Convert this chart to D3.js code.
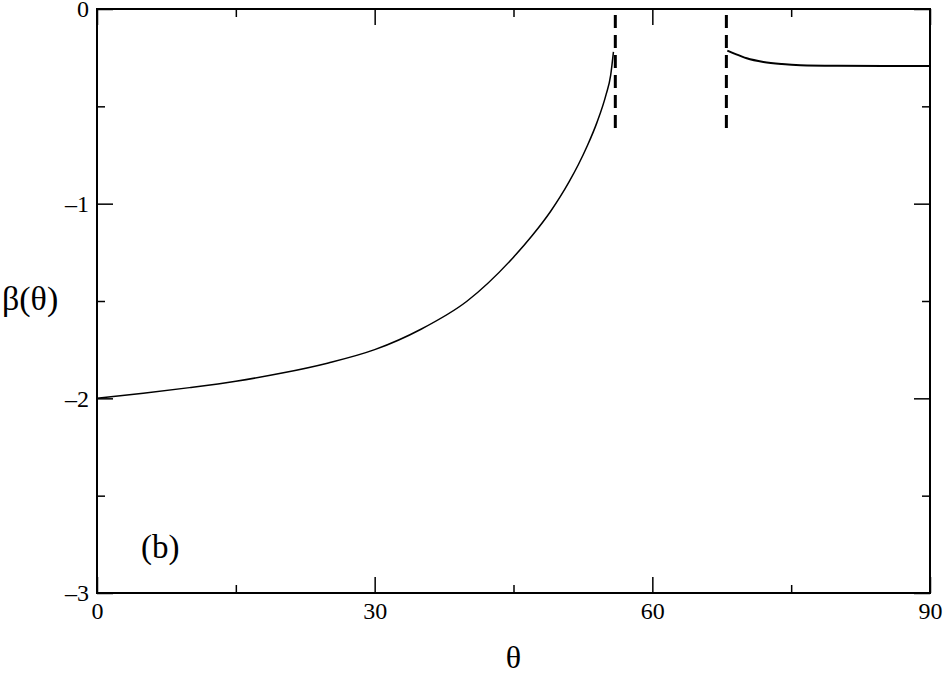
<!DOCTYPE html>
<html>
<head>
<meta charset="utf-8">
<script src="https://cdn.jsdelivr.net/npm/d3@7"></script>
<style>
  body { margin: 0; background: #fff; }
</style>
</head>
<body>
<div class="chart"></div>
<script>
// left branch of beta(theta)
const thetaLeft = [0, 5, 10, 15, 20, 25, 30, 35, 40, 45, 47, 49, 50, 51, 52, 53, 54, 55, 55.5, 55.8];
const betaLeft = [-2.0, -1.974, -1.945, -1.912, -1.870, -1.818, -1.750, -1.645, -1.500, -1.275, -1.165, -1.040, -0.968, -0.888, -0.800, -0.700, -0.585, -0.440, -0.34, -0.22];

// right branch
const thetaRight = [68.1, 69, 70.2, 72, 74, 76, 80, 85, 90];
const betaRight = [-0.214, -0.232, -0.253, -0.272, -0.283, -0.289, -0.292, -0.293, -0.293];

// dashed markers
const dashTheta = [56, 68];
const dashBottom = -0.62;

const xMajor = [0, 30, 60, 90];
const xMinor = [15, 45, 75];
const yMajor = [0, -1, -2, -3];
const yMinor = [-0.5, -1.5, -2.5];

const serif = "'Liberation Serif', 'DejaVu Serif', serif";

const width = 943, height = 674;
const margin = {top: 9, right: 13, bottom: 81, left: 97};
const w = width - margin.left - margin.right;
const h = height - margin.top - margin.bottom;

const svg = d3.select(".chart").append("svg")
  .attr("width", width)
  .attr("height", height)
  .attr("font-family", serif);

const g = svg.append("g")
  .attr("transform", `translate(${margin.left},${margin.top})`);

const x = d3.scaleLinear().domain([0, 90]).range([0, w]);
const y = d3.scaleLinear().domain([-3, 0]).range([h, 0]);

const fmt = d => (d < 0 ? "\u2013" + Math.abs(d) : "" + d);

function styleAxis(sel, labels) {
  sel.attr("font-family", serif).attr("font-size", 24);
  sel.select(".domain").remove();
  sel.selectAll("line").attr("stroke", "#000").attr("stroke-width", 1.5);
  if (!labels) sel.selectAll("text").remove();
  sel.selectAll("text").attr("fill", "#000");
}

// bottom / top
g.append("g").attr("transform", `translate(0,${h})`)
  .call(d3.axisBottom(x).tickValues(xMajor).tickSize(-16).tickPadding(9).tickFormat(fmt))
  .call(s => styleAxis(s, true));
g.append("g").attr("transform", `translate(0,${h})`)
  .call(d3.axisBottom(x).tickValues(xMinor).tickSize(-8))
  .call(s => styleAxis(s, false));
g.append("g")
  .call(d3.axisTop(x).tickValues(xMajor).tickSize(-16))
  .call(s => styleAxis(s, false));
g.append("g")
  .call(d3.axisTop(x).tickValues(xMinor).tickSize(-8))
  .call(s => styleAxis(s, false));

// left / right
g.append("g")
  .call(d3.axisLeft(y).tickValues(yMajor).tickSize(-16).tickPadding(8).tickFormat(fmt))
  .call(s => styleAxis(s, true));
g.append("g")
  .call(d3.axisLeft(y).tickValues(yMinor).tickSize(-8))
  .call(s => styleAxis(s, false));
g.append("g").attr("transform", `translate(${w},0)`)
  .call(d3.axisRight(y).tickValues(yMajor).tickSize(-16))
  .call(s => styleAxis(s, false));
g.append("g").attr("transform", `translate(${w},0)`)
  .call(d3.axisRight(y).tickValues(yMinor).tickSize(-8))
  .call(s => styleAxis(s, false));

// frame
g.append("rect")
  .attr("width", w).attr("height", h)
  .attr("fill", "none").attr("stroke", "#000").attr("stroke-width", 2);

const line = d3.line()
  .x(d => x(d[0]))
  .y(d => y(d[1]))
  .curve(d3.curveMonotoneX);

g.append("path")
  .datum(d3.zip(thetaLeft, betaLeft))
  .attr("d", line)
  .attr("fill", "none").attr("stroke", "#000").attr("stroke-width", 1.5);

g.append("path")
  .datum(d3.zip(thetaRight, betaRight))
  .attr("d", line)
  .attr("fill", "none").attr("stroke", "#000").attr("stroke-width", 2);

g.selectAll(".dash")
  .data(dashTheta)
  .enter().append("line")
  .attr("class", "dash")
  .attr("x1", d => x(d)).attr("x2", d => x(d))
  .attr("y1", y(0)).attr("y2", y(dashBottom))
  .attr("stroke", "#000").attr("stroke-width", 3)
  .attr("stroke-dasharray", "13,7")
  .attr("stroke-dashoffset", 14);

// labels
svg.append("text")
  .attr("x", margin.left + w / 2)
  .attr("y", 668)
  .attr("text-anchor", "middle")
  .attr("font-size", 32)
  .text("\u03b8");

svg.append("text")
  .attr("x", 2)
  .attr("y", 310)
  .attr("font-size", 34)
  .text("\u03b2(\u03b8)");

g.append("text")
  .attr("x", 141 - margin.left)
  .attr("y", 558 - margin.top)
  .attr("font-size", 33)
  .text("(b)");
</script>
</body>
</html>
